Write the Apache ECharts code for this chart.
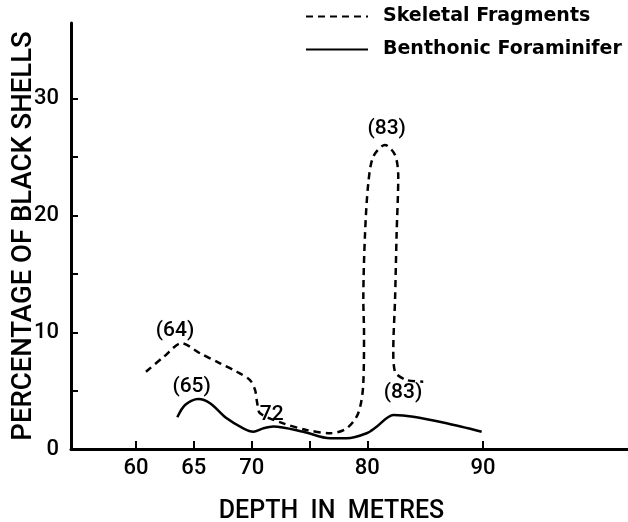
<!DOCTYPE html>
<html>
<head>
<meta charset="utf-8">
<script src="https://cdn.jsdelivr.net/npm/echarts@6/dist/echarts.min.js"></script>
<style>
html,body{margin:0;padding:0;background:#fff;}
#chart{width:628px;height:522px;}
</style>
</head>
<body>
<div id="chart"></div>
<script>
// Skeletal Fragments (dashed) — [depth, percentage]
var skeletalDepth = [60.86, 62.4, 63.95, 65.53, 67.26, 68.70, 69.85, 70.29, 70.48, 70.72, 72.73, 74.75, 76.77, 78.21, 79.21, 79.65, 79.71, 79.65, 79.80, 80.08, 80.51, 81.52, 82.39, 82.67, 82.53, 82.39, 82.24, 82.39, 83.40, 84.83];
var skeletalPct   = [6.62, 7.9, 9.06, 8.20, 7.34, 6.62, 5.91, 5.06, 3.92, 3.06, 2.20, 1.63, 1.35, 1.77, 3.06, 5.63, 9.94, 12.77, 18.51, 22.77, 25.05, 26.05, 25.19, 23.33, 18.51, 12.77, 8.48, 6.62, 5.91, 5.77];

// Benthonic Foraminifer (solid) — [depth, percentage]
var benthicDepth = [63.57, 64.24, 65.39, 66.40, 67.84, 69.27, 70.14, 71.00, 71.87, 74.46, 76.77, 78.21, 79.94, 80.80, 82.24, 83.97, 86.85, 89.88];
var benthicPct   = [2.72, 3.77, 4.28, 3.92, 2.63, 1.77, 1.48, 1.77, 1.93, 1.48, 0.92, 0.92, 1.35, 1.91, 2.91, 2.77, 2.20, 1.48];

// Annotations
var noteText  = ['(64)', '(65)', '72', '(83)', '(83)'];
var noteDepth = [63.37, 64.81, 71.73, 81.67, 83.08];
var notePct   = [10.11, 5.31, 2.91, 27.42, 4.80];

// Axis ticks / labels
var xTickValues  = [60, 65, 70, 75, 80, 90];
var xLabelValues = [60, 65, 70, 80, 90];
var yTickValues  = [5, 10, 15, 20, 25, 30];
var yLabelValues = [0, 10, 20, 30];

var seriesNames = ['Skeletal Fragments', 'Benthonic Foraminifer'];

function zip(a, b) { return a.map(function (v, i) { return [v, b[i]]; }); }

var rob = 'Roboto, "DejaVu Sans", sans-serif';
var plain = '"DejaVu Sans", sans-serif';

var chart = echarts.init(document.getElementById('chart'), null, {renderer: 'canvas'});
chart.setOption({
  backgroundColor: '#fff',
  animation: false,
  grid: {left: 71, right: 0, top: 23, bottom: 73, containLabel: false, outerBoundsMode: 'none'},
  legend: {
    orient: 'vertical', left: 300, top: 2, itemWidth: 62, itemHeight: 20, itemGap: 14,
    data: seriesNames,
    itemStyle: {opacity: 0},
    textStyle: {color: '#000', fontFamily: plain, fontWeight: 'bold', fontSize: 19, padding: [0,0,0,10]}
  },
  xAxis: {
    type: 'value', min: 54.38, max: 102.53,
    name: 'DEPTH  IN  METRES', nameLocation: 'middle', nameGap: 63, nameMoveOverlap: false,
    nameTextStyle: {color: '#000', fontFamily: rob, fontWeight: 500, fontSize: 25, verticalAlign: 'middle', padding: [0, 36, 0, 0]},
    axisLine: {lineStyle: {color: '#000', width: 3}},
    axisTick: {show: true, inside: true, length: 8, lineStyle: {color: '#000', width: 2}, customValues: xTickValues},
    axisLabel: {color: '#000', fontFamily: rob, fontWeight: 500, fontSize: 22, margin: 8, customValues: xLabelValues},
    splitLine: {show: false}
  },
  yAxis: {
    type: 'value', min: 0, max: 36.5,
    name: 'PERCENTAGE OF BLACK SHELLS', nameLocation: 'middle', nameGap: 47, nameRotate: 90, nameMoveOverlap: false,
    nameTextStyle: {color: '#000', fontFamily: rob, fontWeight: 500, fontSize: 27.5, verticalAlign: 'middle'},
    axisLine: {show: true, lineStyle: {color: '#000', width: 3}},
    axisTick: {show: true, inside: true, length: 7, lineStyle: {color: '#000', width: 2}, customValues: yTickValues},
    axisLabel: {color: '#000', fontFamily: rob, fontWeight: 500, fontSize: 22, margin: 12, customValues: yLabelValues},
    splitLine: {show: false}
  },
  series: [
    {
      name: seriesNames[0], type: 'line', data: zip(skeletalDepth, skeletalPct),
      symbol: 'none', smooth: 0.3, color: '#000',
      lineStyle: {color: '#000', width: 2.5, type: [7, 5]}
    },
    {
      name: seriesNames[1], type: 'line', data: zip(benthicDepth, benthicPct),
      symbol: 'none', smooth: 0.3, color: '#000',
      lineStyle: {color: '#000', width: 2.5, type: 'solid'}
    },
    {
      name: 'notes', type: 'scatter', symbolSize: 2, itemStyle: {color: 'rgba(0,0,0,0)'},
      data: noteDepth.map(function (d, i) { return [d, notePct[i], noteText[i]]; }),
      label: {show: true, position: [1, 1], align: 'center', verticalAlign: 'middle',
        color: '#000', opacity: 1, fontFamily: rob, fontWeight: 500, fontSize: 21,
        formatter: function (p) { return p.value[2]; }},
      labelLayout: {hideOverlap: false},
      silent: true
    }
  ]
});
</script>
</body>
</html>
